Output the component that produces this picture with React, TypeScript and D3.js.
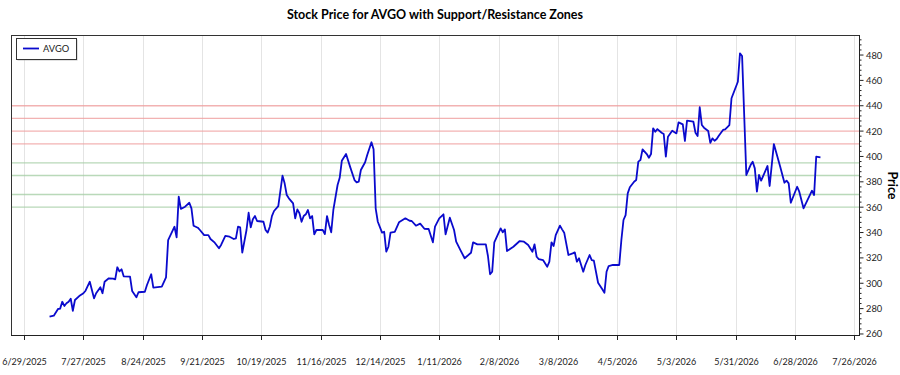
import React from 'react'
import * as d3 from 'd3'

const W = 900
const H = 375

// closing prices
const dates = [
  '2025-07-11', '2025-07-13', '2025-07-15', '2025-07-16', '2025-07-17', '2025-07-18', '2025-07-19', '2025-07-20',
  '2025-07-21', '2025-07-22', '2025-07-23', '2025-07-25', '2025-07-27', '2025-07-28', '2025-07-30', '2025-08-01',
  '2025-08-02', '2025-08-04', '2025-08-05', '2025-08-06', '2025-08-08', '2025-08-10', '2025-08-11', '2025-08-12',
  '2025-08-13', '2025-08-14', '2025-08-15', '2025-08-18', '2025-08-19', '2025-08-21', '2025-08-22', '2025-08-25',
  '2025-08-26', '2025-08-28', '2025-08-29', '2025-09-02', '2025-09-04', '2025-09-05', '2025-09-08', '2025-09-09',
  '2025-09-10', '2025-09-11', '2025-09-13', '2025-09-15', '2025-09-16', '2025-09-17', '2025-09-19', '2025-09-20',
  '2025-09-22', '2025-09-24', '2025-09-25', '2025-09-27', '2025-09-29', '2025-09-30', '2025-10-02', '2025-10-04',
  '2025-10-06', '2025-10-07', '2025-10-08', '2025-10-09', '2025-10-10', '2025-10-12', '2025-10-13', '2025-10-14',
  '2025-10-15', '2025-10-16', '2025-10-17', '2025-10-20', '2025-10-21', '2025-10-22', '2025-10-23', '2025-10-24',
  '2025-10-25', '2025-10-27', '2025-10-29', '2025-10-30', '2025-10-31', '2025-11-01', '2025-11-03', '2025-11-04',
  '2025-11-05', '2025-11-06', '2025-11-07', '2025-11-08', '2025-11-09', '2025-11-10', '2025-11-11', '2025-11-12',
  '2025-11-13', '2025-11-14', '2025-11-17', '2025-11-18', '2025-11-19', '2025-11-20', '2025-11-21', '2025-11-22',
  '2025-11-24', '2025-11-25', '2025-11-26', '2025-11-28', '2025-11-30', '2025-12-02', '2025-12-03', '2025-12-04',
  '2025-12-05', '2025-12-07', '2025-12-08', '2025-12-10', '2025-12-11', '2025-12-12', '2025-12-13', '2025-12-15',
  '2025-12-16', '2025-12-17', '2025-12-18', '2025-12-19', '2025-12-21', '2025-12-23', '2025-12-26', '2025-12-28',
  '2025-12-29', '2025-12-31', '2026-01-02', '2026-01-04', '2026-01-06', '2026-01-08', '2026-01-09', '2026-01-11',
  '2026-01-13', '2026-01-14', '2026-01-16', '2026-01-18', '2026-01-19', '2026-01-21', '2026-01-23', '2026-01-26',
  '2026-01-27', '2026-01-28', '2026-01-29', '2026-02-02', '2026-02-03', '2026-02-04', '2026-02-05', '2026-02-06',
  '2026-02-09', '2026-02-10', '2026-02-11', '2026-02-12', '2026-02-15', '2026-02-18', '2026-02-20', '2026-02-22',
  '2026-02-24', '2026-02-25', '2026-02-26', '2026-02-27', '2026-03-01', '2026-03-03', '2026-03-04', '2026-03-05',
  '2026-03-06', '2026-03-07', '2026-03-09', '2026-03-10', '2026-03-11', '2026-03-13', '2026-03-15', '2026-03-16',
  '2026-03-17', '2026-03-18', '2026-03-20', '2026-03-21', '2026-03-23', '2026-03-24', '2026-03-25', '2026-03-27',
  '2026-03-29', '2026-03-30', '2026-03-31', '2026-04-01', '2026-04-03', '2026-04-06', '2026-04-07', '2026-04-08',
  '2026-04-09', '2026-04-10', '2026-04-11', '2026-04-13', '2026-04-14', '2026-04-15', '2026-04-16', '2026-04-17',
  '2026-04-19', '2026-04-20', '2026-04-21', '2026-04-22', '2026-04-23', '2026-04-24', '2026-04-26', '2026-04-27',
  '2026-04-28', '2026-04-29', '2026-05-01', '2026-05-03', '2026-05-04', '2026-05-06', '2026-05-07', '2026-05-08',
  '2026-05-11', '2026-05-12', '2026-05-13', '2026-05-14', '2026-05-15', '2026-05-16', '2026-05-18', '2026-05-19',
  '2026-05-20', '2026-05-21', '2026-05-22', '2026-05-23', '2026-05-25', '2026-05-26', '2026-05-28', '2026-05-29',
  '2026-06-01', '2026-06-02', '2026-06-03', '2026-06-05', '2026-06-07', '2026-06-08', '2026-06-09', '2026-06-10',
  '2026-06-11', '2026-06-12', '2026-06-15', '2026-06-16', '2026-06-18', '2026-06-21', '2026-06-23', '2026-06-24',
  '2026-06-25', '2026-06-26', '2026-06-29', '2026-06-30', '2026-07-02', '2026-07-06', '2026-07-07', '2026-07-08',
  '2026-07-10',
]

const prices = [
  273.6, 274.4, 279.7, 280.0, 285.4, 282.1, 284.2, 285.4,
  287.8, 278.3, 286.8, 289.9, 292.1, 294.1, 301.2, 288.1,
  292.1, 296.8, 292.1, 301.2, 303.9, 303.6, 303.1, 312.6,
  309.4, 311.0, 305.5, 305.2, 293.9, 288.9, 292.9, 293.3,
  298.6, 307.1, 296.5, 297.3, 304.7, 334.1, 344.6, 336.2,
  368.3, 358.6, 360.4, 363.5, 359.1, 345.4, 343.8, 342.0,
  338.0, 338.0, 334.9, 332.0, 327.6, 330.2, 337.3, 336.7,
  334.9, 335.4, 344.6, 344.1, 324.1, 342.0, 355.6, 344.1,
  350.4, 353.0, 349.1, 348.5, 342.0, 339.9, 344.6, 353.0,
  357.0, 360.9, 384.8, 378.8, 369.6, 367.0, 363.0, 351.2,
  358.3, 355.2, 348.5, 353.0, 354.4, 357.8, 351.2, 353.0,
  338.6, 342.0, 342.0, 338.8, 353.0, 345.9, 340.2, 357.8,
  377.5, 383.2, 396.6, 401.9, 391.4, 381.4, 379.6, 380.1,
  389.3, 395.4, 401.1, 411.2, 405.6, 358.9, 348.5, 339.9,
  340.6, 324.9, 328.8, 339.9, 340.6, 348.1, 351.2, 349.3,
  349.1, 345.4, 347.0, 343.0, 342.8, 332.3, 344.6, 351.2,
  354.4, 338.6, 351.7, 342.0, 332.8, 326.2, 319.7, 324.1,
  332.3, 331.5, 330.7, 330.7, 321.5, 307.1, 309.1, 332.3,
  343.3, 340.2, 342.5, 325.4, 328.8, 333.3, 332.8, 330.2,
  324.9, 330.7, 320.9, 319.1, 318.3, 313.0, 317.0, 332.3,
  329.4, 338.0, 345.5, 342.5, 339.9, 322.3, 323.6, 324.4,
  317.0, 319.7, 309.1, 314.4, 322.3, 318.3, 317.8, 300.4,
  295.2, 292.5, 309.1, 313.6, 314.4, 314.4, 334.1, 349.9,
  353.8, 370.9, 375.7, 380.1, 381.4, 395.9, 397.2, 405.6,
  401.9, 399.0, 401.9, 422.2, 419.5, 421.6, 418.7, 417.7,
  399.8, 415.6, 420.3, 418.2, 426.9, 425.3, 412.2, 428.2,
  427.4, 418.7, 416.1, 438.8, 424.8, 422.7, 420.1, 410.8,
  414.3, 412.4, 413.8, 416.4, 420.9, 421.4, 424.8, 445.9,
  458.9, 481.3, 479.2, 385.4, 393.2, 395.9, 390.6, 372.2,
  385.4, 380.9, 392.5, 376.7, 409.8, 391.9, 379.3, 380.9,
  378.8, 363.5, 376.1, 372.2, 359.1, 373.0, 369.6, 399.8,
  399.3,
]

const xTickLabels = [
  '6/29/2025', '7/27/2025', '8/24/2025', '9/21/2025', '10/19/2025', '11/16/2025', '12/14/2025',
  '1/11/2026', '2/8/2026', '3/8/2026', '4/5/2026', '5/3/2026', '5/31/2026', '6/28/2026', '7/26/2026',
]
const yTicks = [260, 280, 300, 320, 340, 360, 380, 400, 420, 440, 460, 480]
const yDomain = [258.4, 495.8]
const resistanceLevels = [410, 420, 430, 440]
const supportLevels = [360, 370, 385, 395]

const title = 'Stock Price for AVGO with Support/Resistance Zones'
const seriesName = 'AVGO'
const yTitle = 'Price'

const plot = {left: 11, right: 859, top: 35, bottom: 336}
const font = 'Lato, "Noto Sans", sans-serif'

const App = () => {
  const parseISO = d3.timeParse('%Y-%m-%d')
  const parseTick = d3.timeParse('%m/%d/%Y')
  const points = dates.map((d, i) => ({date: parseISO(d) as Date, value: prices[i]}))

  const [d0, d1] = d3.extent(points, p => p.date) as [Date, Date]
  const pad = (d1.getTime() - d0.getTime()) * 0.05
  const x = d3.scaleTime()
    .domain([new Date(d0.getTime() - pad), new Date(d1.getTime() + pad)])
    .range([plot.left, plot.right])
  const y = d3.scaleLinear().domain(yDomain).range([plot.bottom, plot.top])

  const line = d3.line<{date: Date, value: number}>()
    .x(p => x(p.date))
    .y(p => y(p.value))

  const minorTicks = d3.range(yTicks[0], yDomain[1], 4).filter(v => v % 20 !== 0 && v >= yDomain[0])
  const midY = (plot.top + plot.bottom) / 2

  return (
    <div style={{position: 'fixed', left: 0, top: 0, width: W, height: H, background: '#fff'}}>
      <svg width={W} height={H} style={{display: 'block'}}>
        <text x={(plot.left + plot.right) / 2} y={19} textAnchor="middle"
          fontFamily={font} fontWeight="bold" fontSize={12.5} fill="#000">{title}</text>

        {/* vertical grid */}
        {xTickLabels.map(t => {
          const xx = Math.round(x(parseTick(t) as Date)) + 0.5
          return <line key={'g' + t} x1={xx} x2={xx} y1={plot.top} y2={plot.bottom} stroke="#e4e4e4" strokeWidth={1}/>
        })}

        {/* resistance / support zones */}
        {resistanceLevels.map(v => (
          <line key={'r' + v} x1={plot.left} x2={plot.right} y1={y(v)} y2={y(v)}
            stroke="#f0a0a0" strokeWidth={1.3} opacity={0.8}/>
        ))}
        {supportLevels.map(v => (
          <line key={'s' + v} x1={plot.left} x2={plot.right} y1={y(v)} y2={y(v)}
            stroke="#a8d0a8" strokeWidth={1.3} opacity={0.8}/>
        ))}

        <path d={line(points) || ''} fill="none" stroke="#0a0acd" strokeWidth={1.8} strokeLinejoin="round"/>

        {/* frame */}
        <line x1={plot.left} x2={plot.right} y1={plot.top + 0.5} y2={plot.top + 0.5} stroke="#333"/>
        <line x1={plot.left + 0.5} x2={plot.left + 0.5} y1={plot.top} y2={plot.bottom} stroke="#333"/>
        <line x1={plot.left} x2={plot.right} y1={plot.bottom - 0.5} y2={plot.bottom - 0.5} stroke="#222"/>
        <line x1={plot.right + 0.5} x2={plot.right + 0.5} y1={plot.top} y2={plot.bottom} stroke="#222"/>

        {/* x axis */}
        {xTickLabels.map(t => {
          const xx = Math.round(x(parseTick(t) as Date)) + 0.5
          return (
            <g key={'x' + t}>
              <line x1={xx} x2={xx} y1={plot.bottom} y2={plot.bottom + 4} stroke="#222"/>
              <text x={xx} y={365} textAnchor="middle" fontFamily={font} fontSize={9} fill="#222">{t}</text>
            </g>
          )
        })}

        {/* y axis on the right */}
        {minorTicks.map(v => (
          <line key={'m' + v} x1={plot.right} x2={plot.right + 2.5} y1={y(v)} y2={y(v)} stroke="#222"/>
        ))}
        {yTicks.map(v => (
          <g key={'y' + v}>
            <line x1={plot.right} x2={plot.right + 4.5} y1={y(v)} y2={y(v)} stroke="#222"/>
            <text x={866} y={y(v) + 3.5} fontFamily={font} fontSize={9.3} fill="#222">{v}</text>
          </g>
        ))}
        <text transform={`translate(888,${midY}) rotate(90)`} textAnchor="middle"
          fontFamily={font} fontWeight="bold" fontSize={12.5} fill="#000">{yTitle}</text>

        {/* legend */}
        <rect x={17.5} y={39.5} width={60} height={21} fill="#888" opacity={0.5}/>
        <rect x={16.5} y={38.5} width={60} height={21} fill="#fff" stroke="#333"/>
        <line x1={23} x2={39} y1={48.5} y2={48.5} stroke="#0a0acd" strokeWidth={1.8}/>
        <text x={43} y={51.5} fontFamily={font} fontSize={9.3} fill="#222">{seriesName}</text>
      </svg>
    </div>
  )
}

export default App
